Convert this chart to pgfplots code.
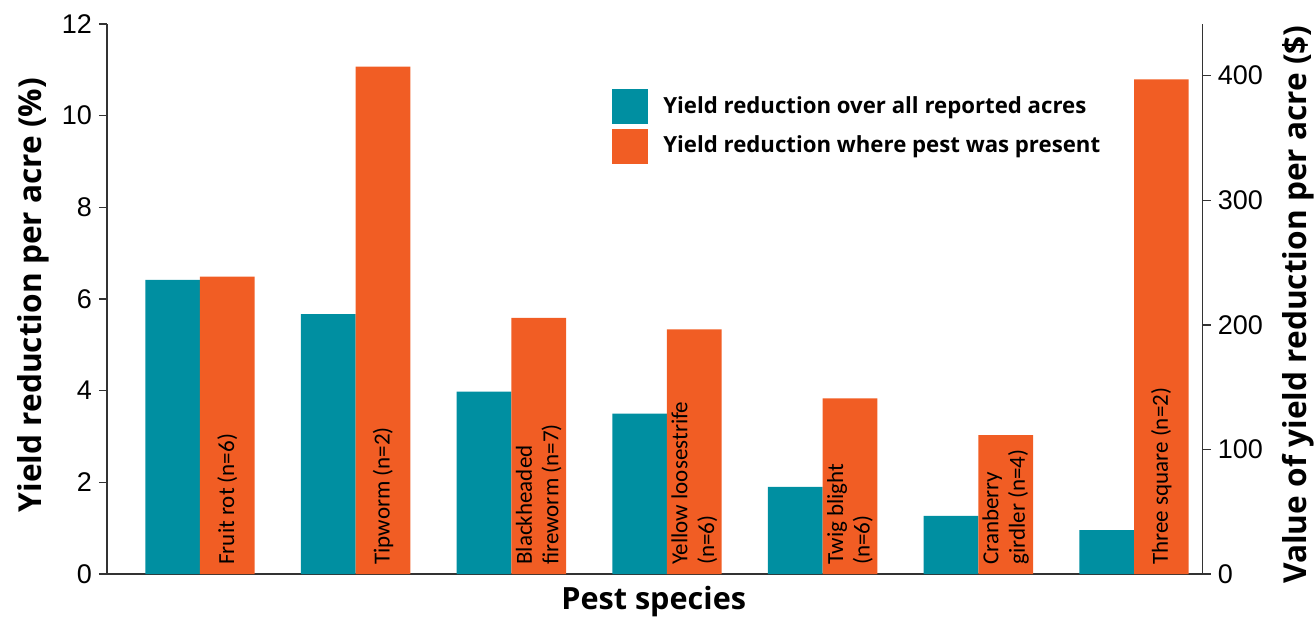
\documentclass[border=0pt]{standalone}
\usepackage{fontspec}
\setmainfont{Carlito}
\newfontfamily\tickfont{Liberation Sans}
\newfontfamily\titlefont{Open Sans}
\usepackage{pgfplots}
\pgfplotsset{compat=1.18}

\definecolor{tealbar}{RGB}{0,143,161}
\definecolor{orangebar}{RGB}{241,93,36}
\definecolor{axisgray}{RGB}{51,51,51}

\pgfplotsset{
  common/.style={
    at={(0pt,0pt)}, anchor=south west,
    scale only axis, width=547.85pt, height=275pt,
    xmin=-0.5974, xmax=6.4413,
    tick align=outside, major tick length=4pt,
    axis line style={axisgray, line width=0.75pt},
    every tick/.style={axisgray, line width=0.75pt},
    tick label style={font=\fontsize{13.5}{16}\tickfont},
    /pgf/number format/assume math mode=true,
    clip=false,
  },
}
\tikzset{
  barlab/.style={rotate=90, anchor=west, inner sep=0pt, align=left,
    font=\fontsize{11.5}{13.3}\selectfont},
  axtitle/.style={inner sep=0pt, font=\fontsize{15.8}{18}\titlefont\bfseries},
}

\begin{document}
\begin{tikzpicture}
\useasboundingbox (-53.5pt,-21.5pt) rectangle (603.5pt,287pt);

% yield reduction (%) on the left axis
\begin{axis}[common,
  ymin=0, ymax=12,
  axis x line*=bottom, axis y line*=left,
  xtick=\empty,
  ytick={0,2,...,12},
  bar width=0.3514,
  legend style={at={(rel axis cs:0.4606,0.8818)}, anchor=north west,
    draw=none, fill=none, inner sep=0pt, outer sep=0pt,
    row sep=2.25pt,
    nodes={inner sep=0pt},
    font=\fontsize{11.1}{13}\titlefont\bfseries,
    /tikz/every odd column/.append style={column sep=7.8pt}},
  legend cell align=left,
  legend image code/.code={\fill[#1] (0pt,-8.75pt) rectangle (18pt,8.75pt);},
]
\addplot[ybar, bar shift=-0.1757, fill=tealbar, draw=none]
  coordinates {(0,6.42) (1,5.67) (2,3.98) (3,3.50) (4,1.90) (5,1.27) (6,0.96)};
\addplot[ybar, bar shift=0.1757, fill=orangebar, draw=none]
  coordinates {(0,6.49) (1,11.07) (2,5.59) (3,5.34) (4,3.83) (5,3.03) (6,10.79)};
\legend{Yield reduction over all reported acres, Yield reduction where pest was present}

\node[barlab] at ([yshift=4.5pt]axis cs:0.1757,0) {Fruit rot (n=6)};
\node[barlab] at ([yshift=4.5pt]axis cs:1.1757,0) {Tipworm (n=2)};
\node[barlab] at ([yshift=4.5pt]axis cs:2.1757,0) {Blackheaded\\fireworm (n=7)};
\node[barlab] at ([yshift=4.5pt]axis cs:3.1757,0) {Yellow loosestrife\\(n=6)};
\node[barlab] at ([yshift=4.5pt]axis cs:4.1757,0) {Twig blight\\(n=6)};
\node[barlab] at ([yshift=4.5pt]axis cs:5.1757,0) {Cranberry\\girdler (n=4)};
\node[barlab] at ([yshift=4.5pt]axis cs:6.1757,0) {Three square (n=2)};
\end{axis}

% dollar value on the right axis
\begin{axis}[common,
  ymin=0, ymax=441.5,
  axis x line=none, axis y line*=right,
  ytick={0,100,...,400},
]
\addplot[draw=none, forget plot] coordinates {(0,0) (6,400)};
\end{axis}

\node[axtitle, rotate=90, anchor=base] at (-32.65pt,139.5pt)
  {Yield reduction per acre (\%)};
\node[axtitle, rotate=90, anchor=base] at (599.85pt,134.75pt)
  {Value of yield reduction per acre (\$)};
\node[axtitle, anchor=base, font=\fontsize{15.3}{18}\titlefont\bfseries]
  at (273.35pt,-17.6pt) {Pest species};
\end{tikzpicture}
\end{document}
